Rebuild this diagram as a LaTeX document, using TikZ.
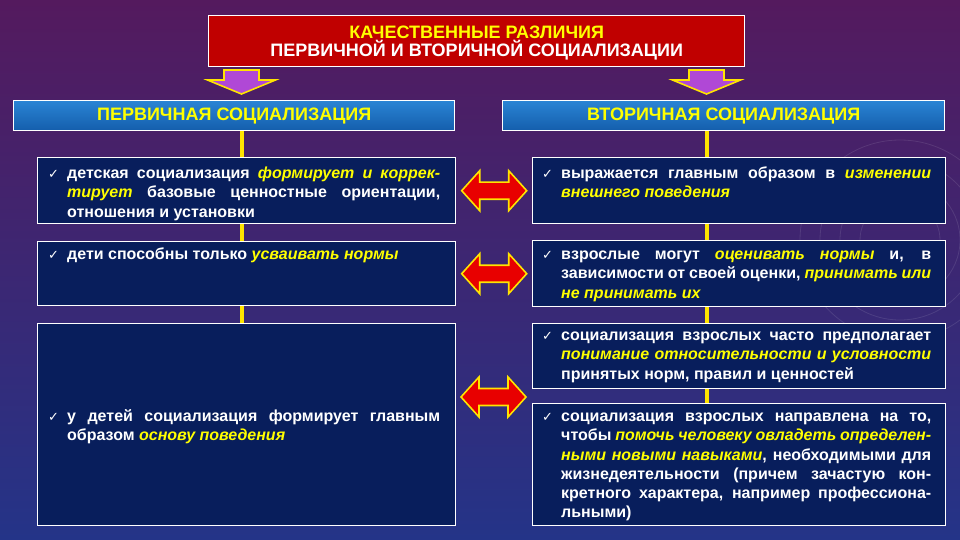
\documentclass[tikz,border=0pt]{standalone}
\usepackage{fontspec}
\setmainfont{Liberation Sans}
\newfontfamily\chkfont{DejaVu Sans}
\usetikzlibrary{calc}
\definecolor{bgtop}{RGB}{84,26,94}
\definecolor{bgmid}{RGB}{72,32,118}
\definecolor{bgbot}{RGB}{36,52,136}
\definecolor{titlered}{RGB}{192,0,0}
\definecolor{headtop}{RGB}{42,132,212}
\definecolor{headbot}{RGB}{20,94,172}
\definecolor{boxnavy}{RGB}{8,30,92}
\definecolor{hlyellow}{RGB}{255,255,0}
\definecolor{linyellow}{RGB}{255,228,0}
\definecolor{arrred}{RGB}{232,0,0}
\definecolor{arrpurple}{RGB}{176,72,214}
\tikzset{
  titlebox/.style={draw=white, line width=1.4pt, fill=titlered, anchor=north west, inner sep=0pt,
    minimum width=536pt, minimum height=51pt, align=center, font=\bfseries\fontsize{18}{18.5}\selectfont},
  headbox/.style={draw=white, line width=1.4pt, top color=headtop, bottom color=headbot, anchor=north west,
    inner sep=0pt, minimum height=30pt, text=hlyellow, font=\bfseries\fontsize{18}{18}\selectfont},
  itembox/.style={draw=white, line width=1.4pt, fill=boxnavy, anchor=north west, inner sep=0pt},
  itemtxt/.style={anchor=north west, inner sep=0pt, text=white, align=justify,
    font=\bfseries\fontsize{16}{19.3}\selectfont},
  vline/.style={linyellow, line width=4pt},
  bigarr/.style={draw=linyellow, line width=1.6pt, line join=miter}
}
\newcommand{\hl}[1]{\textcolor{hlyellow}{\itshape #1}}
\newcommand{\chkitem}[1]{\noindent\hangindent=19pt\hangafter=1\hyphenpenalty=10000\strut
  \makebox[19pt][l]{\chkfont\mdseries\fontsize{13}{14}\selectfont ✓}#1\par}
\newcommand{\downarr}[1]{\draw[bigarr, fill=arrpurple] ($(#1)+(-17.5,-12)$) -- ++(35,0) -- ++(0,10) -- ++(16.5,0)
  -- ($(#1)+(0,12)$) -- ($(#1)+(-34,-2)$) -- ++(16.5,0) -- cycle;}
\newcommand{\dblarr}[1]{\draw[bigarr, fill=arrred] ($(#1)+(-32.5,0)$) -- ++(18,-20) -- ++(0,11.5) -- ++(29,0)
  -- ++(0,-11.5) -- ++(18,20) -- ++(-18,20) -- ++(0,-11.5) -- ++(-29,0) -- ++(0,11.5) -- cycle;}

\begin{document}
\begin{tikzpicture}[x=1pt, y=-1pt]
  \useasboundingbox (0,0) rectangle (960,540);
  \shade[top color=bgtop, middle color=bgmid, bottom color=bgbot] (0,0) rectangle (960,540);
  % faint rings in the background
  \foreach \r in {40,60,80,100}
    \draw[white, opacity=0.1, line width=0.8pt] (900,240) circle (\r);

  \coordinate (xl) at (241.5,0);
  \coordinate (xr) at (706.5,0);

  \node[titlebox] (title) at (208,15) {\rule{0pt}{16pt}\textcolor{hlyellow}{КАЧЕСТВЕННЫЕ РАЗЛИЧИЯ}\\ \textcolor{white}{ПЕРВИЧНОЙ И ВТОРИЧНОЙ СОЦИАЛИЗАЦИИ}};

  \node[headbox, minimum width=441pt] (lh) at (13,100) {ПЕРВИЧНАЯ СОЦИАЛИЗАЦИЯ};
  \node[headbox, minimum width=442pt] (rh) at (502,100) {ВТОРИЧНАЯ СОЦИАЛИЗАЦИЯ};

  \downarr{xl |- 0,82}
  \downarr{xr |- 0,82}

  % yellow spines
  \draw[vline] (xl |- lh.south) -- (xl |- 0,323);
  \draw[vline] (xr |- rh.south) -- (xr |- 0,403);

  % left column
  \node[itembox, minimum width=418pt, minimum height=66pt] (l1) at (37,157) {};
  \node[itembox, minimum width=418pt, minimum height=64pt] (l2) at (37,241) {};
  \node[itembox, minimum width=418pt, minimum height=202pt] (l3) at (37,323) {};
  % right column
  \node[itembox, minimum width=413pt, minimum height=66pt] (r1) at (532,157) {};
  \node[itembox, minimum width=413pt, minimum height=66pt] (r2) at (532,240) {};
  \node[itembox, minimum width=413pt, minimum height=65pt] (r3) at (532,323) {};
  \node[itembox, minimum width=413pt, minimum height=122pt] (r4) at (532,403) {};

  \node[itemtxt, text width=392pt] (tl1) at (48,164.7) {\chkitem{детская социализация \hl{формирует и коррек-}\linebreak
    \hl{тирует} базовые ценностные ориентации,\linebreak отношения и установки}};
  \node[itemtxt, text width=392pt] (tl2) at (48,245.7) {\chkitem{дети способны только \hl{усваивать нормы}}};
  \node[itemtxt, text width=392pt] (tl3) at (48,407.7) {\chkitem{у детей социализация формирует главным\linebreak
    образом \hl{основу поведения}}};

  \node[itemtxt, text width=389pt] (tr1) at (542,164.7) {\chkitem{выражается главным образом в \hl{изменении}\linebreak
    \hl{внешнего поведения}}};
  \node[itemtxt, text width=389pt] (tr2) at (542,245.7) {\chkitem{взрослые могут \hl{оценивать нормы} и, в\linebreak
    зависимости от своей оценки, \hl{принимать или}\linebreak \hl{не принимать их}}};
  \node[itemtxt, text width=389pt] (tr3) at (542,326.7) {\chkitem{социализация взрослых часто предполагает\linebreak
    \hl{понимание относительности и условности}\linebreak принятых норм, правил и ценностей}};
  \node[itemtxt, text width=389pt] (tr4) at (542,407.7) {\chkitem{социализация взрослых направлена на то,\linebreak
    чтобы \hl{помочь человеку овладеть определен-}\linebreak \hl{ными новыми навыками}, необходимыми для\linebreak
    жизнедеятельности (причем зачастую кон-\linebreak кретного характера, например профессиона-\linebreak льными)}};

  % double arrows between the columns
  \dblarr{$(l1.east)!0.5!(r1.west)$}
  \dblarr{$(l2.east)!0.5!(r2.west)$}
  \dblarr{493.5,397}
\end{tikzpicture}
\end{document}
